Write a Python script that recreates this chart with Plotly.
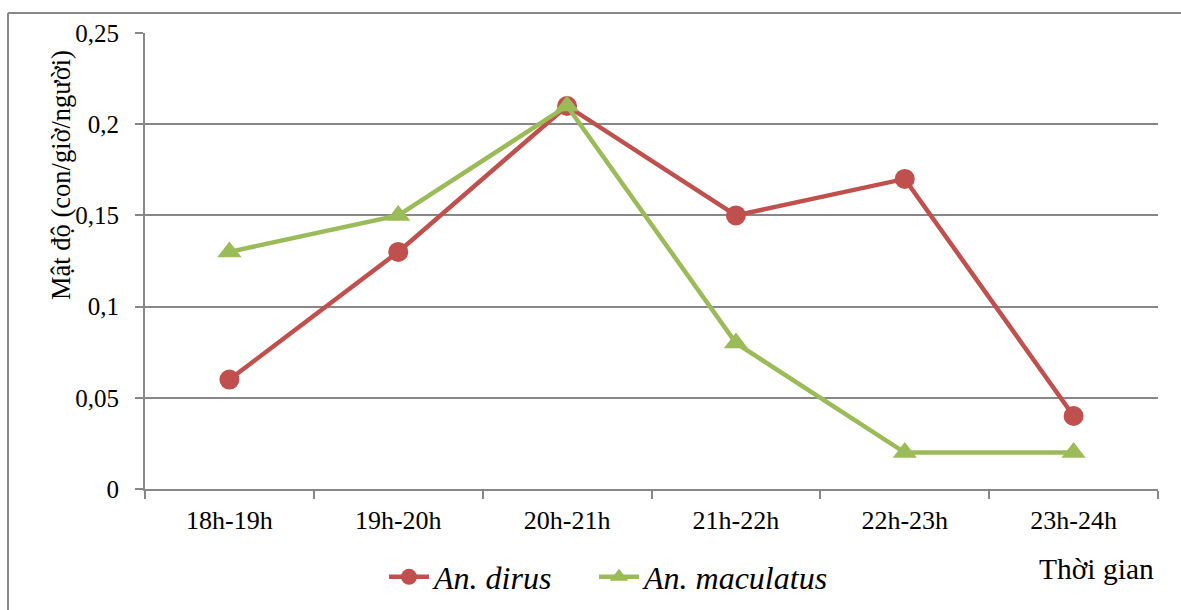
import plotly.graph_objects as go

# Hourly biting density (mosquitoes per hour per person)
time_slots = ["18h-19h", "19h-20h", "20h-21h", "21h-22h", "22h-23h", "23h-24h"]
an_dirus = [0.06, 0.13, 0.21, 0.15, 0.17, 0.04]
an_maculatus = [0.13, 0.15, 0.21, 0.08, 0.02, 0.02]

y_ticks = [0, 0.05, 0.1, 0.15, 0.2, 0.25]
y_tick_labels = ["0", "0,05", "0,1", "0,15", "0,2", "0,25"]

RED = "#C0504D"
GREEN = "#9BBB59"
GRID = "#878787"
FONT = "Liberation Serif"

W, H = 1181, 610
ML, MR, MT, MB = 145, 23, 33, 121
PW, PH = W - ML - MR, H - MT - MB


def px_x(px):
    return (px - ML) / PW


def px_y(py):
    return (H - MB - py) / PH


fig = go.Figure()
fig.add_trace(go.Scatter(
    x=time_slots, y=an_dirus, name="<i>An. dirus</i>",
    mode="lines+markers", legend="legend",
    line=dict(color=RED, width=4.5),
    marker=dict(symbol="circle", size=20, color=RED),
))
fig.add_trace(go.Scatter(
    x=time_slots, y=an_maculatus, name="<i>An. maculatus</i>",
    mode="lines+markers", legend="legend2",
    line=dict(color=GREEN, width=4.5),
    marker=dict(symbol="triangle-up", size=21, color=GREEN),
))

legend_style = dict(
    orientation="h", xanchor="left", y=px_y(577), yanchor="middle",
    font=dict(family=FONT, size=32, color="black"),
    itemwidth=40, bgcolor="rgba(0,0,0,0)",
)

fig.update_layout(
    width=W, height=H,
    margin=dict(l=ML, r=MR, t=MT, b=MB, autoexpand=False),
    paper_bgcolor="white", plot_bgcolor="white",
    showlegend=True,
    legend=dict(x=px_x(384), **legend_style),
    legend2=dict(x=px_x(594), **legend_style),
    xaxis=dict(
        type="category", range=[-0.5, 5.5],
        showgrid=False, showline=True, linecolor=GRID, linewidth=2,
        ticks="outside", tickson="boundaries", ticklen=8,
        tickcolor=GRID, tickwidth=2, ticklabelstandoff=7,
        tickfont=dict(family=FONT, size=26, color="black"),
        fixedrange=True,
    ),
    yaxis=dict(
        range=[0, 0.25], tickvals=y_ticks, ticktext=y_tick_labels,
        showgrid=True, gridcolor=GRID, gridwidth=2,
        showline=True, linecolor=GRID, linewidth=2,
        ticks="outside", ticklen=8, tickcolor=GRID, tickwidth=2,
        ticklabelstandoff=11,
        tickfont=dict(family=FONT, size=25, color="black"),
        zeroline=False, fixedrange=True,
    ),
    annotations=[
        dict(text="Mật độ (con/giờ/người)", textangle=-90,
             xref="paper", yref="paper", x=px_x(61), y=px_y(175),
             xanchor="center", yanchor="middle", showarrow=False,
             font=dict(family=FONT, size=26.5, color="black")),
        dict(text="Thời gian",
             xref="paper", yref="paper", x=px_x(1096), y=px_y(569),
             xanchor="center", yanchor="middle", showarrow=False,
             font=dict(family=FONT, size=29.5, color="black")),
    ],
    shapes=[
        dict(type="line", xref="paper", yref="paper",
             x0=px_x(8), x1=px_x(1185), y0=px_y(13), y1=px_y(13),
             line=dict(color=GRID, width=2)),
        dict(type="line", xref="paper", yref="paper",
             x0=px_x(8), x1=px_x(8), y0=px_y(13), y1=px_y(615),
             line=dict(color=GRID, width=2)),
    ],
)

fig.write_html("out.html")
